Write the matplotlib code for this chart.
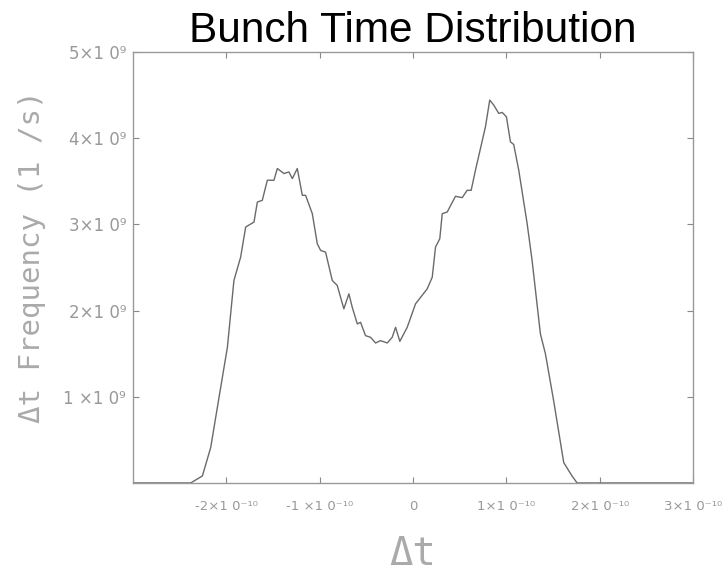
import matplotlib
matplotlib.use('Agg')
import matplotlib.pyplot as plt
import numpy as np


# curve: dt in units of 1e-10 s, frequency in units of 1e9 1/s
dt = [-3.0, -2.382, -2.257, -2.168, -2.079, -1.989, -1.919, -1.847, -1.793, -1.704,
      -1.668, -1.615, -1.561, -1.490, -1.454, -1.383, -1.330, -1.293, -1.240, -1.186,
      -1.151, -1.079, -1.026, -0.990, -0.937, -0.865, -0.812, -0.741, -0.687, -0.651,
      -0.597, -0.562, -0.509, -0.455, -0.401, -0.348, -0.276, -0.223, -0.187, -0.141,
      -0.062, 0.027, 0.152, 0.206, 0.241, 0.287, 0.313, 0.366, 0.455, 0.527,
      0.580, 0.623, 0.669, 0.776, 0.822, 0.865, 0.919, 0.955, 1.001, 1.044,
      1.079, 1.133, 1.223, 1.276, 1.365, 1.419, 1.507, 1.615, 1.704, 1.758, 3.0]
freq = [0.0, 0.0, 0.081, 0.41, 0.99, 1.573, 2.349, 2.62, 2.969, 3.027,
        3.259, 3.279, 3.512, 3.512, 3.648, 3.59, 3.608, 3.531, 3.648, 3.337,
        3.337, 3.124, 2.776, 2.698, 2.678, 2.349, 2.291, 2.02, 2.194, 2.038,
        1.845, 1.864, 1.709, 1.69, 1.624, 1.651, 1.624, 1.69, 1.806, 1.643,
        1.806, 2.078, 2.252, 2.387, 2.736, 2.834, 3.124, 3.143, 3.326, 3.31,
        3.395, 3.395, 3.628, 4.131, 4.442, 4.384, 4.287, 4.299, 4.248, 3.957,
        3.927, 3.628, 3.008, 2.581, 1.729, 1.497, 0.953, 0.236, 0.081, 0.0, 0.0]

xticks = [-2, -1, 0, 1, 2, 3]
xlabels = ['-2\u00d71 0\u207b\u00b9\u2070', '-1 \u00d71 0\u207b\u00b9\u2070', '0',
           '1\u00d71 0\u207b\u00b9\u2070', '2\u00d71 0\u207b\u00b9\u2070',
           '3\u00d71 0\u207b\u00b9\u2070']
yticks = [1, 2, 3, 4, 5]
ylabels = ['1 \u00d71 0\u2079', '2\u00d71 0\u2079', '3\u00d71 0\u2079',
           '4\u00d71 0\u2079', '5\u00d71 0\u2079']

x = np.array(dt) * 1e-10
y = np.array(freq) * 1e9

fig = plt.figure(figsize=(7.23, 5.77), dpi=100)
ax = fig.add_axes([0.184, 0.163, 0.7745, 0.7469])

ax.plot(x, y, color='#6a6a6a', lw=1.0)

ax.set_xlim(-3e-10, 3e-10)
ax.set_ylim(0, 5e9)
ax.set_xticks(np.array(xticks) * 1e-10)
ax.set_xticklabels(xlabels)
ax.set_yticks(np.array(yticks) * 1e9)
ax.set_yticklabels(ylabels)

ax.tick_params(direction='in', top=True, right=True, length=4, width=0.8,
               color='#888888', labelcolor='#999999')
ax.tick_params(axis='x', pad=12, labelsize=9.5)
ax.tick_params(axis='y', pad=5, labelsize=12)
for s in ax.spines.values():
    s.set_color('#999999')
    s.set_linewidth(1.0)

ax.set_title('Bunch Time Distribution', family='Liberation Sans', fontsize=30.5,
             color='black', pad=7)
ax.set_ylabel('\u0394t Frequency (1 /s)', family='DejaVu Sans Mono', fontsize=21,
              color='#aaaaaa')
ax.yaxis.set_label_coords(-0.155, 0.525)
ax.set_xlabel('\u0394t', family='DejaVu Sans Mono', fontsize=28,
              color='#aaaaaa', labelpad=16)

plt.savefig('out.png', dpi=100)
